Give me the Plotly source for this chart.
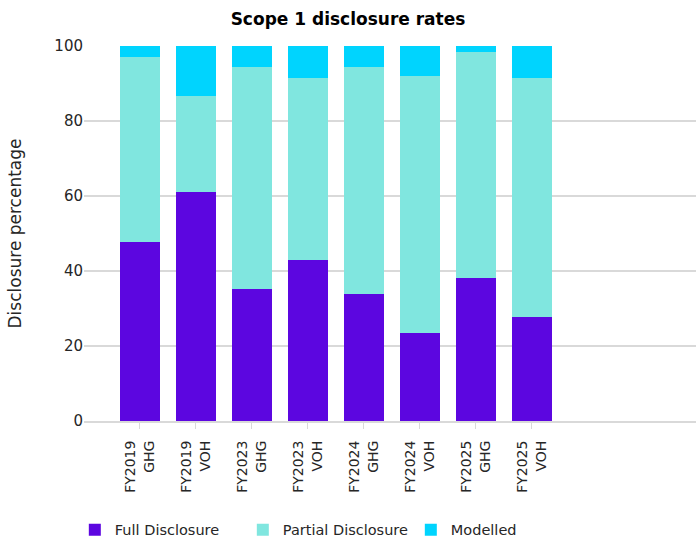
import plotly.graph_objects as go

categories = ["FY2019<br>GHG", "FY2019<br>VOH", "FY2023<br>GHG", "FY2023<br>VOH",
              "FY2024<br>GHG", "FY2024<br>VOH", "FY2025<br>GHG", "FY2025<br>VOH"]
full_disclosure = [47.8, 61.1, 35.1, 43.0, 33.9, 23.5, 38.2, 27.8]
partial_disclosure = [49.2, 25.7, 59.2, 48.6, 60.4, 68.6, 60.3, 63.8]
modelled = [3.0, 13.2, 5.7, 8.4, 5.7, 7.9, 1.5, 8.4]

COLORS = {"Full Disclosure": "#5c06e0", "Partial Disclosure": "#80e6df", "Modelled": "#00d4fe"}
FONT = "'DejaVu Sans', sans-serif"

fig = go.Figure()
for name, vals in [("Full Disclosure", full_disclosure),
                   ("Partial Disclosure", partial_disclosure),
                   ("Modelled", modelled)]:
    fig.add_trace(go.Bar(x=list(range(len(categories))), y=vals, name=name,
                         marker=dict(color=COLORS[name], line=dict(width=0))))

fig.update_layout(
    barmode="stack",
    bargap=0.29,
    width=696, height=542,
    plot_bgcolor="white", paper_bgcolor="white",
    font=dict(family=FONT, size=14, color="#262626"),
    title=dict(text="<b>Scope 1 disclosure rates</b>", x=0.5, xanchor="center",
               y=0.976, yanchor="top", font=dict(size=17, color="black")),
    margin=dict(l=84, r=0, t=46, b=121, autoexpand=False),
    legend=dict(orientation="h", x=-0.015, xanchor="left", y=-0.29, yanchor="middle",
                font=dict(size=14.5), traceorder="normal",
                entrywidth=123, entrywidthmode="pixels"),
    showlegend=True,
)
fig.update_xaxes(
    tickmode="array", tickvals=list(range(len(categories))), ticktext=categories,
    tickangle=-90, range=[-1, 9.93], automargin=False,
    showline=True, linecolor="#d9d9d9", linewidth=2,
    ticks="outside", tickcolor="#d9d9d9", ticklen=6, tickwidth=1,
    ticklabelstandoff=6,
    tickfont=dict(size=14), showgrid=False,
)
fig.update_yaxes(
    range=[0, 100], dtick=20, showgrid=True, gridcolor="#d9d9d9", gridwidth=2,
    zeroline=False, automargin=False,
    title=dict(text="Disclosure percentage", font=dict(size=17), standoff=28),
    tickfont=dict(size=15), ticks="",
)

# the page body has a default 8px margin; remove it so the figure sits at the corner
fig.write_html("out.html", config={"displayModeBar": False},
               post_script="document.body.style.margin='0';")
